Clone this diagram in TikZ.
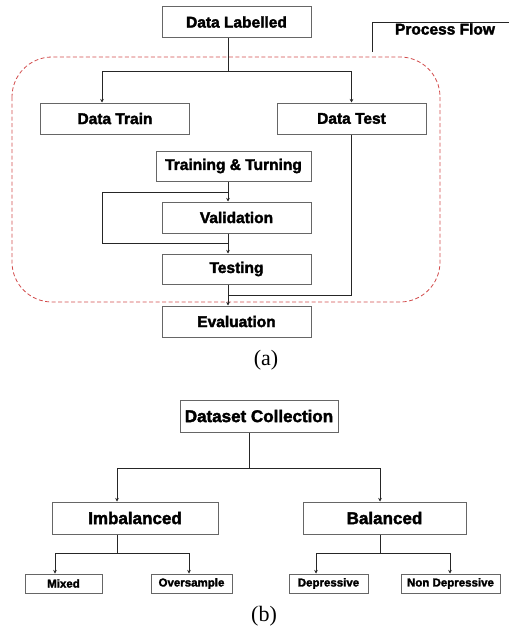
\documentclass[tikz,border=0pt]{standalone}
\usepackage{fontspec}
\setmainfont{Liberation Serif}
\setsansfont{Liberation Sans}[BoldFeatures={FakeBold=2.2}]
\usetikzlibrary{calc,arrows.meta}

\begin{document}
\begin{tikzpicture}[x=1pt, y=-1pt,
	box/.style={draw=black!60, line width=1pt, fill=white, inner sep=0pt, minimum width=149pt, minimum height=31pt, font=\sffamily\bfseries\fontsize{15.5}{18}\selectfont},
	bigbox/.style={box, minimum width=163pt, minimum height=32pt, font=\sffamily\bfseries\fontsize{17}{20}\selectfont},
	smallbox/.style={box, minimum width=79pt, minimum height=19pt, font=\sffamily\bfseries\fontsize{11.5}{14}\selectfont},
	link/.style={draw=black!85, line width=0.8pt},
	arr/.style={link, -{Stealth[length=3.5pt, width=3.5pt]}},
	frame/.style={draw=red!75!black!70, line width=0.8pt, dash pattern=on 4pt off 2.5pt, rounded corners=40pt},
	caption/.style={font=\fontsize{22}{25}\selectfont}]
	\useasboundingbox (0,0) rectangle (509,629);
	
	% Part (a): process flow
	\draw[frame] (12,57) rectangle (440,302);
	\node[box] (lab) at (236.5,22) {Data Labelled};
	\node[box] (train) at (115,118.5) {Data Train};
	\node[box] (test) at (351.5,118.5) {Data Test};
	\node[box, minimum width=155pt, minimum height=30pt] (tune) at (233.5,166) {Training \& Turning};
	\node[box] (valid) at (236.5,217.5) {Validation};
	\node[box, minimum height=30pt] (testing) at (236.5,269) {Testing};
	\node[box] (eval) at (236.5,321.5) {Evaluation};
	\node[font=\sffamily\bfseries\fontsize{15.5}{18}\selectfont] (pf) at (445,29) {Process Flow};
	
	\coordinate (spine) at (228,0);
	\coordinate (split) at (228,71);
	\coordinate (lsplit) at (102,71);
	\coordinate (loopa) at (228,192);
	\coordinate (loopb) at (102,243);
	\coordinate (join) at (228,295);
	\coordinate (pfa) at (372,52);
	\coordinate (pfb) at (509,22);
	
	% Draw connectors
	\draw[link] (lab.south -| spine) -- (split);
	\draw[arr] (lsplit) -- (lsplit |- train.north);
	\draw[arr] (lsplit) -| (test.north);
	\draw[arr] (tune.south -| spine) -- (valid.north -| spine);
	\draw[link] (loopa) -| (loopb) -- (loopb -| spine);
	\draw[arr] (valid.south -| spine) -- (testing.north -| spine);
	\draw[link] (test.south) |- (join);
	\draw[arr] (testing.south -| spine) -- (eval.north -| spine);
	\draw[link] (pfa) |- (pfb);
	\node[caption] (capa) at (266,360) {(a)};
	
	% Part (b): dataset tree
	\node[bigbox, minimum width=158pt] (dc) at (259,416) {Dataset Collection};
	\node[bigbox, minimum width=166pt] (imb) at (135,518) {Imbalanced};
	\node[bigbox] (bal) at (384.5,518) {Balanced};
	\node[smallbox, minimum width=77pt] (mix) at (63.5,583.5) {Mixed};
	\node[smallbox, minimum width=81pt] (over) at (191.5,583.5) {Oversample};
	\node[smallbox] (dep) at (328.5,583.5) {Depressive};
	\node[smallbox, minimum width=99pt] (nondep) at (450.5,583.5) {Non Depressive};
	
	\coordinate (bsplit) at (249,468);
	\coordinate (bl) at (117,468);
	\coordinate (br) at (380,468);
	\coordinate (il) at (55,553);
	\coordinate (ir) at (189,553);
	\coordinate (dl) at (316,553);
	\coordinate (dr) at (450,553);
	
	% Draw tree links
	\draw[link] (dc.south -| bsplit) -- (bsplit);
	\draw[link] (bl) -- (br);
	\draw[arr] (bl) -- (bl |- imb.north);
	\draw[arr] (br) -- (br |- bal.north);
	\draw[link] (imb.south -| bl) -- (bl |- il);
	\draw[link] (il) -- (ir);
	\draw[arr] (il) -- (il |- mix.north);
	\draw[arr] (ir) -- (ir |- over.north);
	\draw[link] (bal.south -| br) -- (br |- dl);
	\draw[link] (dl) -- (dr);
	\draw[arr] (dl) -- (dl |- dep.north);
	\draw[arr] (dr) -- (dr |- nondep.north);
	\node[caption] (capb) at (264,616) {(b)};
\end{tikzpicture}
\end{document}
